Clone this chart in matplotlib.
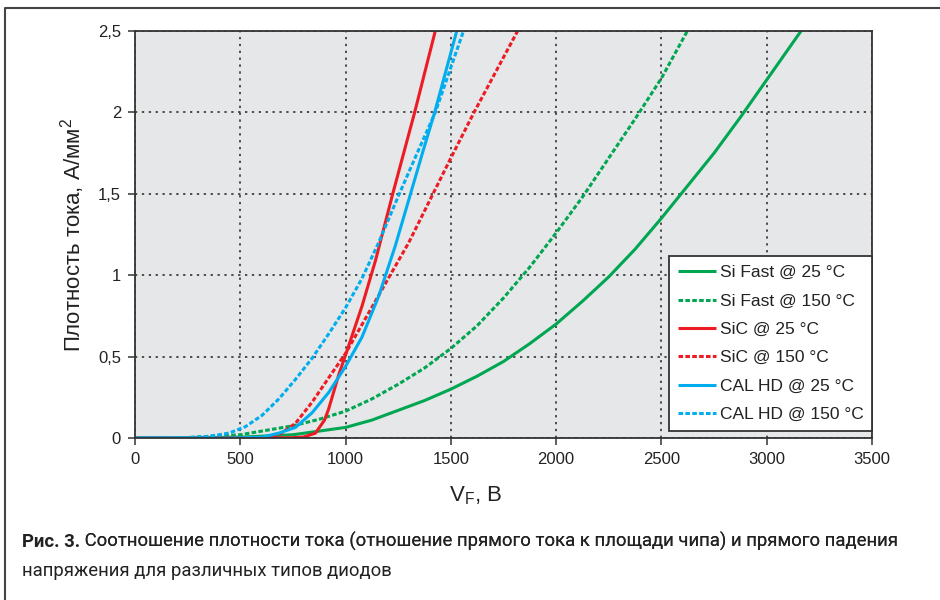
import matplotlib
matplotlib.use("Agg")
import matplotlib.pyplot as plt
from matplotlib.lines import Line2D
from matplotlib.ticker import FuncFormatter

plt.rcParams['font.family'] = ['Liberation Sans', 'DejaVu Sans']

# ---- data ----
si25_v = [0, 250, 500, 750, 1000, 1125, 1250, 1375, 1500, 1625, 1750, 1875, 2000, 2125, 2250, 2375, 2500, 2625, 2750, 2875, 3000, 3163]
si25_j = [0, 0.001, 0.005, 0.02, 0.065, 0.11, 0.17, 0.23, 0.30, 0.38, 0.47, 0.58, 0.70, 0.84, 0.99, 1.16, 1.35, 1.55, 1.75, 1.97, 2.20, 2.50]

si150_v = [0, 250, 500, 750, 875, 1000, 1125, 1250, 1375, 1500, 1625, 1750, 1875, 2000, 2125, 2250, 2375, 2500, 2623]
si150_j = [0, 0.003, 0.02, 0.075, 0.115, 0.165, 0.24, 0.33, 0.43, 0.55, 0.69, 0.86, 1.05, 1.26, 1.48, 1.72, 1.96, 2.21, 2.50]

sic25_v = [0, 600, 750, 800, 857, 900, 920, 968, 1000, 1078, 1142, 1224, 1328, 1426]
sic25_j = [0, 0, 0.002, 0.006, 0.03, 0.11, 0.18, 0.39, 0.51, 0.81, 1.09, 1.50, 2.00, 2.50]

sic150_v = [0, 600, 683, 762, 841, 920, 1000, 1150, 1300, 1400, 1500, 1610, 1817]
sic150_j = [0, 0, 0.02, 0.09, 0.22, 0.37, 0.52, 0.86, 1.20, 1.46, 1.72, 2.00, 2.50]

cal25_v = [0, 450, 604, 683, 762, 841, 920, 1000, 1078, 1157, 1236, 1304, 1365, 1423, 1528]
cal25_j = [0, 0, 0.005, 0.03, 0.065, 0.155, 0.28, 0.44, 0.62, 0.87, 1.18, 1.48, 1.75, 2.00, 2.50]

cal150_v = [0, 250, 350, 446, 525, 604, 683, 762, 841, 920, 1000, 1078, 1157, 1252, 1340, 1426, 1560]
cal150_j = [0, 0.002, 0.01, 0.03, 0.07, 0.14, 0.24, 0.36, 0.49, 0.64, 0.80, 0.98, 1.20, 1.49, 1.75, 2.00, 2.50]

labels = ['Si Fast @ 25 °C', 'Si Fast @ 150 °C', 'SiC @ 25 °C', 'SiC @ 150 °C',
          'CAL HD @ 25 °C', 'CAL HD @ 150 °C']
x_ticks = [0, 500, 1000, 1500, 2000, 2500, 3000, 3500]
y_ticks = [0, 0.5, 1, 1.5, 2, 2.5]

green = '#00a651'
red = '#ed1c24'
blue = '#00aeef'

fig = plt.figure(figsize=(9.4, 6.0), dpi=100)
ax = fig.add_axes([135/940, 1-438/600, (872-135)/940, (438-31)/600])
ax.set_facecolor('#e6e7e8')

lw = 2.2
dash = (0, (1.5, 0.75))
series = [
    (si25_v, si25_j, green, '-'),
    (si150_v, si150_j, green, dash),
    (sic25_v, sic25_j, red, '-'),
    (sic150_v, sic150_j, red, dash),
    (cal25_v, cal25_j, blue, '-'),
    (cal150_v, cal150_j, blue, dash),
]
for (v, j, c, ls), lab in zip(series, labels):
    ax.plot(v, j, color=c, linestyle=ls, linewidth=lw, label=lab,
            solid_capstyle='butt', dash_capstyle='butt', solid_joinstyle='round')

ax.set_xlim(0, 3500)
ax.set_ylim(0, 2.5)
ax.set_xticks(x_ticks)
ax.set_yticks(y_ticks)
ax.yaxis.set_major_formatter(FuncFormatter(lambda v, p: ('%g' % v).replace('.', ',')))
ax.set_axisbelow(True)
ax.grid(True, color='#222222', linestyle=(0, (1.5, 3)), linewidth=1.1)
for s in ax.spines.values():
    s.set_color('#333333')
    s.set_linewidth(1.3)
ax.tick_params(direction='out', length=5, width=1.1, color='#333333',
               labelsize=12, pad=5, labelcolor='#222222')

ax.set_ylabel('Плотность тока, А/мм$^\\mathregular{2}$', fontsize=16, color='#222222',
              labelpad=8)
ax.set_xlabel('V$_\\mathregular{F}$, В', fontsize=16, color='#222222', labelpad=8)
ax.xaxis.set_label_coords((476-135)/(872-135), -0.115)

leg = ax.legend(loc='lower right', bbox_to_anchor=(1.0, 0.018), borderaxespad=0,
                fontsize=12.5, frameon=True, fancybox=False, framealpha=1,
                edgecolor='#333333', handlelength=2.2, handletextpad=0.2,
                labelspacing=0.76, borderpad=0.5)
leg.get_frame().set_linewidth(1.3)
for t in leg.get_texts():
    t.set_color('#222222')

# outer frame (top and left)
fig.add_artist(Line2D([5/940, 5/940, 1.0], [0.0, 1-7.5/600, 1-7.5/600],
                      transform=fig.transFigure, color='#444444', linewidth=1.5))

# caption
cap_font = ['Roboto', 'DejaVu Sans']
t1 = fig.text(22/940, 1-551/600, 'Рис. 3.', fontsize=13.3, fontweight='bold',
              family=cap_font, color='#222222', va='bottom')
fig.texts.append(ax.annotate(' Соотношение плотности тока (отношение прямого тока к площади чипа) и прямого падения',
            xy=(1, 0), xycoords=t1, va='bottom', ha='left', fontsize=13.3,
            family=cap_font, color='#222222', annotation_clip=False))
fig.text(22/940, 1-580/600, 'напряжения для различных типов диодов', fontsize=13.3,
         family=cap_font, color='#222222', va='bottom')

fig.savefig('out.png', dpi=100, facecolor='white')
